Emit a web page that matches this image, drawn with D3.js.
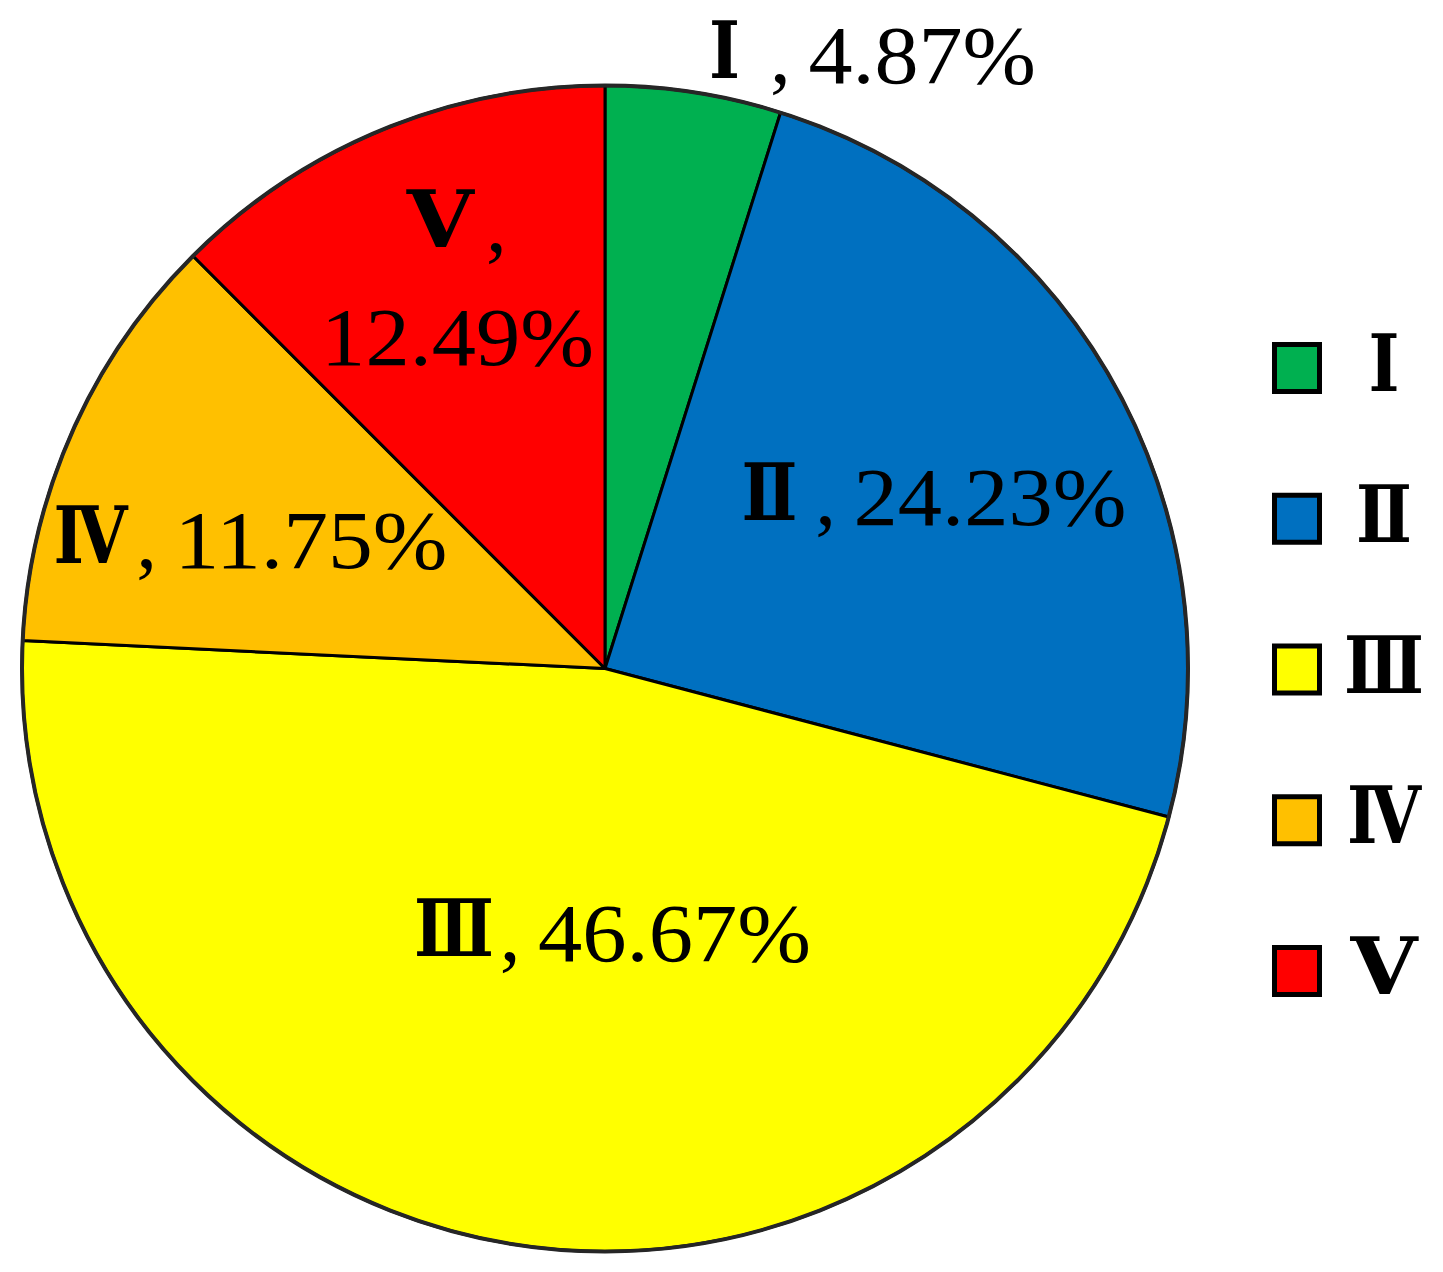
<!DOCTYPE html>
<html>
<head>
<meta charset="utf-8">
<script src="https://cdn.jsdelivr.net/npm/d3@7/dist/d3.min.js"></script>
<style>
  html, body { margin: 0; padding: 0; background: #ffffff; }
  svg { display: block; }
</style>
</head>
<body>
<script>
// ---- data ----
const categories = ["Ⅰ", "Ⅱ", "Ⅲ", "Ⅳ", "Ⅴ"];
const values = [4.87, 24.23, 46.67, 11.75, 12.49];

// ---- styles / layout ----
const palette = ["#00B050", "#0070C0", "#FFFF00", "#FFC000", "#FF0000"];
const numeralWidth = {"Ⅰ": 31, "Ⅱ": 56, "Ⅲ": 80, "Ⅳ": 74, "Ⅴ": 67};
const W = 1443, H = 1272;
const cx = 605, cy = 668.5, R = 583;
const numFont = '"Liberation Serif", "DejaVu Serif", serif';
const numeralSize = 79, digitSize = 83, charW = 45.5;
// label placement relative to slice mid-angle (k = fraction of radius)
const labelLayout = [
  {k: 1.069, dx: 9,  dy: 0,  mode: "start"},
  {k: 0.615, dx: 15, dy: 0,  mode: "center"},
  {k: 0.456, dx: 48, dy: 0,  mode: "center"},
  {k: 0.665, dx: 0,  dy: 27, mode: "center"},
  {k: 0.724, dx: 14, dy: 0,  mode: "twoLine"}
];

const data = categories.map((c, i) => ({cat: c, value: values[i]}));
const fmt = v => d3.format(".2f")(v) + "%";

const svg = d3.select("body").append("svg").attr("width", W).attr("height", H);

const pie = d3.pie().sort(null).value(d => d.value).startAngle(0).endAngle(2 * Math.PI);
const arc = d3.arc().innerRadius(0).outerRadius(R);
const arcs = pie(data);

const g = svg.append("g").attr("transform", `translate(${cx},${cy})`);
g.selectAll("path.slice").data(arcs).join("path")
  .attr("class", "slice")
  .attr("d", arc)
  .attr("fill", (d, i) => palette[i])
  .attr("stroke", "#000")
  .attr("stroke-width", 3)
  .attr("stroke-linejoin", "round");
g.append("circle").attr("r", R).attr("fill", "none")
  .attr("stroke", "#262626").attr("stroke-width", 4);

// ---- labels ----
const lab = svg.append("g");
function numeral(x, y, t) {
  lab.append("text").attr("x", x).attr("y", y)
    .attr("text-anchor", "middle")
    .attr("font-family", numFont).attr("font-weight", "bold")
    .attr("font-size", numeralSize)
    .attr("textLength", numeralWidth[t]).attr("lengthAdjust", "spacingAndGlyphs")
    .attr("fill", "#000").text(t);
}
function comma(x, y) {
  lab.append("text").attr("x", x).attr("y", y)
    .attr("text-anchor", "middle")
    .attr("font-family", numFont).attr("font-size", digitSize)
    .attr("fill", "#000").text(",");
}
function number(x, y, t, anchor) {
  lab.append("text").attr("x", x).attr("y", y)
    .attr("text-anchor", anchor)
    .attr("font-family", numFont).attr("font-size", digitSize)
    .attr("textLength", charW * t.length).attr("lengthAdjust", "spacingAndGlyphs")
    .attr("fill", "#000").text(t);
}

arcs.forEach((a, i) => {
  const L = labelLayout[i];
  const mid = (a.startAngle + a.endAngle) / 2;
  const px = L.k * R * Math.sin(mid) + cx + L.dx;
  const py = -L.k * R * Math.cos(mid) + cy + L.dy;
  const t = a.data.cat, nw = numeralWidth[t], s = fmt(a.data.value);
  const numW = charW * s.length;
  if (L.mode === "twoLine") {
    const w1 = nw / 2 + 68;
    const nc = px - w1 / 2 + nw / 2;
    numeral(nc, py - 31, t);
    comma(nc + 56, py - 26);
    number(px, py + 87, s, "middle");
  } else {
    let nc;
    if (L.mode === "start") nc = px + nw / 2;
    else {
      const width = nw / 2 + 84 + numW;
      nc = px - width / 2 + nw / 2;
    }
    numeral(nc, py + 25, t);
    comma(nc + 56, py + 30);
    number(nc + 84, py + 30, s, "start");
  }
});

// ---- legend ----
const ly = d3.scalePoint().domain(categories).range([368, 971]);
const leg = svg.append("g");
categories.forEach((c, i) => {
  const y = ly(c);
  leg.append("rect")
    .attr("x", 1274.5).attr("y", y - 26 + 2.5)
    .attr("width", 45).attr("height", 47)
    .attr("fill", palette[i]).attr("stroke", "#000").attr("stroke-width", 5);
  leg.append("text").attr("x", 1384).attr("y", y + 23)
    .attr("text-anchor", "middle")
    .attr("font-family", numFont).attr("font-weight", "bold")
    .attr("font-size", numeralSize)
    .attr("textLength", numeralWidth[c]).attr("lengthAdjust", "spacingAndGlyphs")
    .attr("fill", "#000").text(c);
});
</script>
</body>
</html>
